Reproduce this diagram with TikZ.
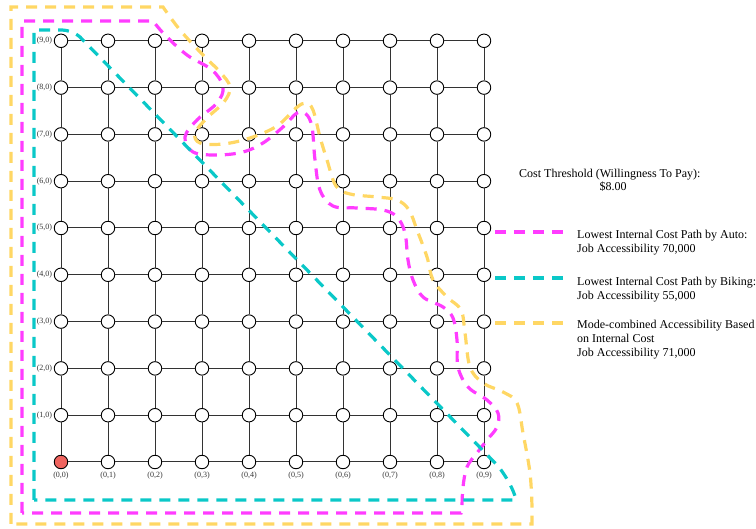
\documentclass[tikz,border=0pt]{standalone}
\usepackage{fontspec}
\setmainfont{Liberation Serif}
\definecolor{magroute}{RGB}{255,60,255}
\definecolor{tealroute}{RGB}{10,200,200}
\definecolor{ylwroute}{RGB}{255,215,100}
\definecolor{origfill}{RGB}{240,100,95}
\begin{document}
\begin{tikzpicture}[x=1pt,y=-1pt,
  gnode/.style={circle,draw=black,line width=0.9pt,minimum size=13.5pt,inner sep=0pt},
  gridline/.style={black!80,line width=1pt},
  route/.style={line width=3.2pt,dash pattern=on 11pt off 8pt},
  lab/.style={font=\fontsize{8}{9}\selectfont,text=black!80,inner sep=0.5pt},
  bigtext/.style={font=\fontsize{12}{14}\selectfont,inner sep=0pt},
  legtext/.style={bigtext,align=left,anchor=north west}]
\useasboundingbox (0,0) rectangle (756,529);

% grid nodes
\foreach \i in {0,...,9}{
  \foreach \j in {0,...,9}{
    \ifnum\i\j=0 \def\fc{origfill}\else\def\fc{white}\fi
    \node[gnode,fill=\fc] (n-\i-\j) at ({61+47*\j},{462-46.8*\i}) {};
  }
}
% grid lines
\foreach \i in {0,...,9}{
  \foreach \j in {0,...,8}{
    \pgfmathtruncatemacro\jj{\j+1}
    \draw[gridline] (n-\i-\j) -- (n-\i-\jj);
    \draw[gridline] (n-\j-\i) -- (n-\jj-\i);
  }
}
% labels
\foreach \i in {1,...,9}{
  \node[lab,anchor=east] (ll-\i) at ([xshift=-1pt]n-\i-0.west) {(\i,0)};
}
\foreach \j in {0,...,9}{
  \node[lab,anchor=north] (bl-\j) at ([yshift=-2pt]n-0-\j.south) {(0,\j)};
}

% mode-combined (yellow)
\draw[route,ylwroute] (11,524) -- (11,7) -- (163,7) -- plot[smooth,tension=0.6] coordinates {(163,7)(180,30)(203,55)(220,72)(230,87)(224,102)(207,118)(195,133)(200,143)(223,144)(250,138)(277,126)(296,108)(306,103)(313,110)(320,137)(327,160)(336,186)(350,194)(377,197)(397,200)(409,210)(417,230)(427,257)(433,280)(447,297)(461,310)(465,333)(470,367)(483,383)(503,392)(517,403)(523,433)(530,473)(532,507)} -- (532,524) -- cycle;

% auto (magenta)
\draw[route,magroute] (22,513) -- (22,21) -- (153,21) -- plot[smooth,tension=0.6] coordinates {(153,21)(165,35)(187,55)(212,70)(223,87)(217,103)(197,120)(185,137)(193,152)(217,155)(243,152)(263,143)(283,127)(297,113)(306,114)(312,127)(315,160)(320,190)(333,206)(357,208)(383,210)(397,217)(405,233)(408,260)(413,280)(423,297)(443,307)(453,318)(457,340)(458,367)(468,387)(487,400)(498,413)(497,427)(487,440)(477,453)(467,467)(463,487)(462,507)} -- (461,513) -- cycle;

% biking (teal)
\draw[route,tealroute] (34,500) -- (34,30) -- (60,30) .. controls (68,30) and (74,32) .. (80,37) -- (498,466) .. controls (506,476) and (514,490) .. (516,500) -- cycle;

% legend
\coordinate (lma) at (495,232); \coordinate (lmb) at (565,232);
\coordinate (lta) at (495,278); \coordinate (ltb) at (565,278);
\coordinate (lya) at (495,323); \coordinate (lyb) at (565,323);
\draw[route,magroute] (lma) -- (lmb);
\draw[route,tealroute] (lta) -- (ltb);
\draw[route,ylwroute] (lya) -- (lyb);

\node[bigtext,anchor=base west] (cost) at (519,177.5) {Cost Threshold (Willingness To Pay):};
\node[bigtext,anchor=base] (price) at (613,190.5) {\$8.00};
\node[legtext] (tm) at (577,230) {Lowest Internal Cost Path by Auto:\\Job Accessibility 70,000};
\node[legtext] (tt) at (577,277) {Lowest Internal Cost Path by Biking:\\Job Accessibility 55,000};
\node[legtext] (ty) at (577,320) {Mode-combined Accessibility Based\\on Internal Cost\\Job Accessibility 71,000};
\end{tikzpicture}
\end{document}
